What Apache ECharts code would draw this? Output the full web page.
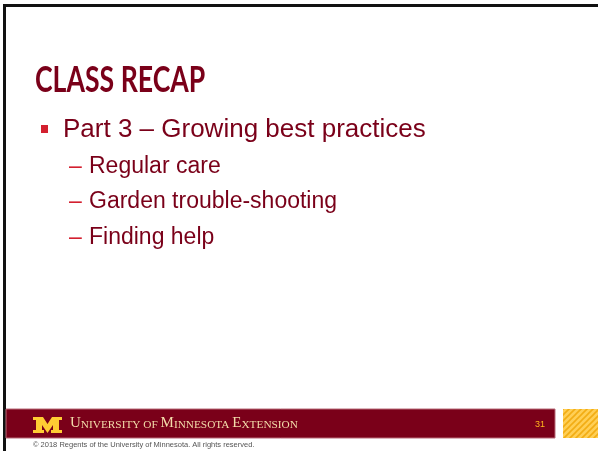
<!DOCTYPE html>
<html>
<head>
<meta charset="utf-8">
<script src="https://cdn.jsdelivr.net/npm/echarts@6/dist/echarts.min.js"></script>
<style>html,body{margin:0;padding:0;background:#fff}#c{width:598px;height:451px}</style>
</head>
<body>
<div id="c"></div>
<script>
const titleText = 'CLASS RECAP';
const bulletItems = ['Part 3 \u2013 Growing best practices'];
const subItems = ['Regular care', 'Garden trouble-shooting', 'Finding help'];
const footerWords = [['U', 'NIVERSITY OF '], ['M', 'INNESOTA '], ['E', 'XTENSION']];
const pageNumber = '31';
const copyrightText = '\u00a9 2018 Regents of the University of Minnesota. All rights reserved.';

const MAROON = '#7a0019';
const GOLD = '#ffcc33';

function hatch() {
  const c = document.createElement('canvas');
  c.width = 6; c.height = 6;
  const g = c.getContext('2d');
  g.fillStyle = '#ffcf55';
  g.fillRect(0, 0, 6, 6);
  g.strokeStyle = '#f2ad14';
  g.lineWidth = 1.6;
  g.beginPath();
  g.moveTo(-1, 7); g.lineTo(7, -1);
  g.moveTo(-4, 4); g.lineTo(4, -4);
  g.moveTo(2, 10); g.lineTo(10, 2);
  g.stroke();
  return c;
}

const els = [];
// slide border (top and left)
els.push({type: 'rect', shape: {x: 3, y: 4, width: 600, height: 3}, style: {fill: '#111'}});
els.push({type: 'rect', shape: {x: 3, y: 4, width: 3, height: 450}, style: {fill: '#111'}});
// title (condensed bold)
els.push({type: 'text', x: 35, y: 62, scaleX: 0.74, style: {text: titleText, font: 'bold 36px Lato', fill: MAROON}});
// bullet
bulletItems.forEach((t, i) => {
  els.push({type: 'rect', shape: {x: 41, y: 125, width: 7, height: 8}, style: {fill: '#d3202f'}});
  els.push({type: 'text', x: 63, y: 117, style: {text: t, font: '26px "Liberation Sans"', fill: MAROON}});
});
subItems.forEach((t, i) => {
  const ty = 155 + i * 35.5;
  els.push({type: 'text', x: 69, y: ty, style: {text: '\u2013', font: '23px "Liberation Sans"', fill: '#d3202f'}});
  els.push({type: 'text', x: 89, y: ty, style: {text: t, font: '23px "Liberation Sans"', fill: MAROON}});
});
// footer bar
els.push({type: 'rect', shape: {x: 6, y: 409, width: 549, height: 29}, style: {fill: MAROON, stroke: '#b96b78', lineWidth: 1}});
// gold hatched box
els.push({type: 'rect', shape: {x: 563, y: 409, width: 40, height: 29}, style: {fill: {image: hatch(), repeat: 'repeat'}}});
// block M logo
const mx = 33, my = 417;
const mpts = [[0,0],[10,0],[14.5,7],[19,0],[29,0],[29,3],[26,3],[26,13],[29,13],[29,16],[18,16],[18,13],[20,13],[20,8],[14.5,16],[9,8],[9,13],[11,13],[11,16],[0,16],[0,13],[3,13],[3,3],[0,3]];
els.push({type: 'polygon', shape: {points: mpts.map(p => [mx + p[0], my + p[1]])}, style: {fill: GOLD}});
// footer text in small caps
let rich = footerWords.map(w => '{b|' + w[0] + '}{s|' + w[1] + '}').join('');
els.push({type: 'text', x: 70, y: 416, style: {text: rich, fill: '#f3dcaa',
  rich: {b: {font: '15px "Liberation Serif"', fill: '#f3dcaa', verticalAlign: 'bottom'},
         s: {font: '11.3px "Liberation Serif"', fill: '#f3dcaa', verticalAlign: 'bottom'}}}});
els.push({type: 'text', x: 535, y: 420, style: {text: pageNumber, font: '9px "Liberation Sans"', fill: '#ffb71e'}});
els.push({type: 'text', x: 33, y: 441, style: {text: copyrightText, font: '7.5px "Liberation Sans"', fill: '#555'}});

const chart = echarts.init(document.getElementById('c'), null, {renderer: 'canvas'});
chart.setOption({backgroundColor: '#fff', animation: false, graphic: {elements: els}});
</script>
</body>
</html>
